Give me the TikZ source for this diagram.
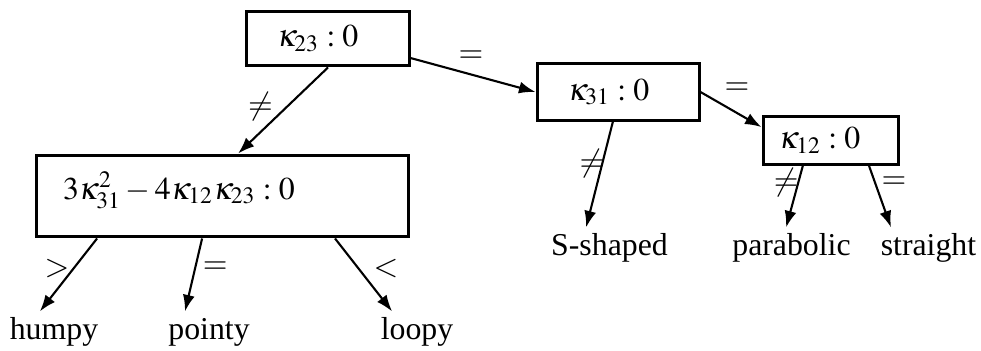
\documentclass[tikz,border=0pt]{standalone}
\usepackage{mathptmx}
\usepackage{fontspec}
\setmainfont{Liberation Serif}
\usepackage{tikz}
\usetikzlibrary{arrows.meta}
\usetikzlibrary{positioning}
\usetikzlibrary{calc}
\tikzstyle{block} = [draw, rectangle, line width = 1pt, align = left, inner ysep = 0pt]
\tikzstyle{leaf} = [inner sep = 2pt, text height = 7pt, text depth = 2pt, anchor = base]
\tikzstyle{cond} = [inner sep = 0pt]
\tikzstyle{arrow} = [line width = 0.7pt, -{Latex[length = 5.5pt, width = 4pt]}]

\begin{document}
\begin{tikzpicture}[x = 0.3333pt, y = -0.3333pt, font = \fontsize{10.6}{12}\selectfont]

		\useasboundingbox (0, 0) rectangle (981, 350);

		% Tests
		\node[block, text width = 34pt, inner xsep = 10pt, minimum height = 18.3pt] (k23) at (328, 38.5) {$\kappa_{23}:0$};
		\node[block, text width = 33.4pt, inner xsep = 10.3pt, minimum height = 18.7pt] (k31) at (618, 92) {$\kappa_{31}:0$};
		\node[block, text width = 34.4pt, inner xsep = 5.3pt, minimum height = 16pt] (k12) at (830.5, 140) {$\kappa_{12}:0$};
		\node[block, text width = 106.3pt, inner xsep = 9pt, minimum height = 27.3pt, text depth = 7pt] (disc) at (222.5, 196) {$3\kappa_{31}^{2}-4\kappa_{12}\kappa_{23}:0$};

		% Outcomes
		\node[leaf] (humpy) at (54, 339) {humpy};
		\node[leaf] (pointy) at (209, 339) {pointy};
		\node[leaf] (loopy) at (417, 339) {loopy};
		\node[leaf] (sshaped) at (609.5, 255) {S-shaped};
		\node[leaf] (parabolic) at (791.5, 255) {parabolic};
		\node[leaf] (straight) at (928.5, 255) {straight};

		% Connect all nodes defined above
		\draw[arrow] ([yshift = -6.5pt]k23.east) -- (k31.west)
		node[cond, pos = 0.5, xshift = -0.7pt, yshift = 6pt] {$=$};
		\draw[arrow] (k23.south) -- ([xshift = 5.2pt]disc.north)
		node[cond, pos = 0.5, xshift = -7.5pt, yshift = 1.2pt] {$\neq$};
		\draw[arrow] (k31.east) -- ([yshift = 4.3pt]k12.west)
		node[cond, pos = 0.5, xshift = 2pt, yshift = 6.8pt] {$=$};
		\draw[arrow] ([xshift = -1.7pt]k31.south) -- ([xshift = -7.8pt]sshaped.north)
		node[cond, pos = 0.5, xshift = -2.5pt, yshift = 3.7pt] {$\neq$};
		\draw[arrow] ([xshift = -9.2pt]k12.south) -- ([xshift = -1.8pt]parabolic.north)
		node[cond, pos = 0.5, xshift = -2.8pt, yshift = 4.7pt] {$\neq$};
		\draw[arrow] ([xshift = 12.8pt]k12.south) -- ([xshift = -12.5pt]straight.north)
		node[cond, pos = 0.5, xshift = 4.7pt, yshift = 4.7pt] {$=$};
		\draw[arrow] ([xshift = -41.8pt]disc.south) -- ([xshift = -4.7pt]humpy.north)
		node[cond, pos = 0.5, xshift = -3.8pt, yshift = 2.2pt] {$>$};
		\draw[arrow] ([xshift = -6.8pt]disc.south) -- ([xshift = -8pt]pointy.north)
		node[cond, pos = 0.5, xshift = 7.2pt, yshift = 2.5pt] {$=$};
		\draw[arrow] ([xshift = 37.5pt]disc.south) -- ([xshift = -8.3pt]loopy.north)
		node[cond, pos = 0.5, xshift = 7.5pt, yshift = 2.2pt] {$<$};

\end{tikzpicture}
\end{document}
